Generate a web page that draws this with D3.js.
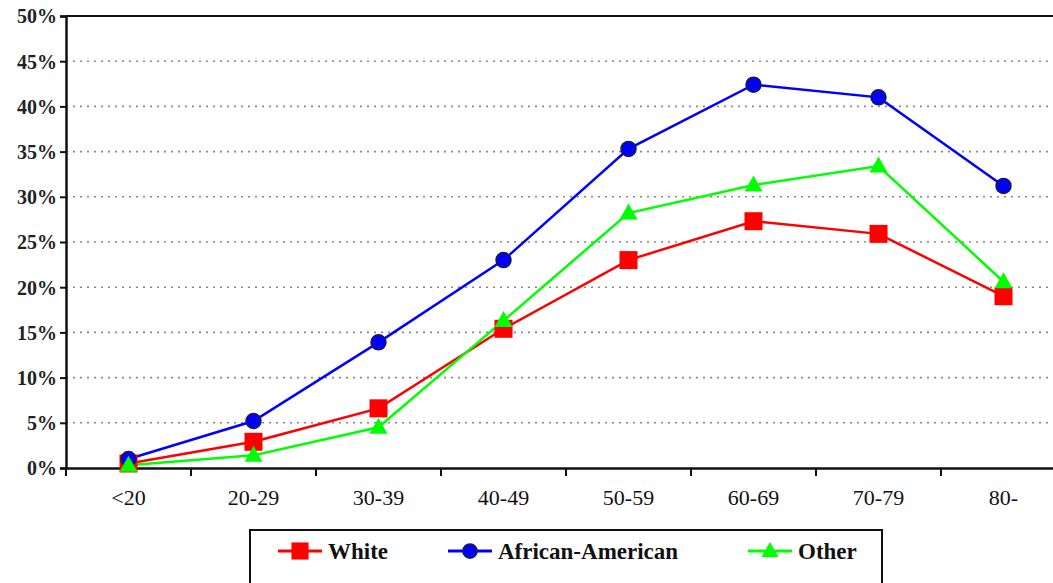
<!DOCTYPE html>
<html>
<head>
<meta charset="utf-8">
<script src="https://cdn.jsdelivr.net/npm/d3@7/dist/d3.min.js"></script>
<style>
  html, body { margin: 0; padding: 0; background: #fff; }
  svg { display: block; }
</style>
</head>
<body>
<svg id="chart" width="1053" height="583" font-family="Liberation Serif"></svg>
<script>
const categories = ["<20", "20-29", "30-39", "40-49", "50-59", "60-69", "70-79", "80-"];
const white = [0.5, 2.9, 6.6, 15.4, 23.0, 27.3, 25.9, 19.0];
const africanAmerican = [1.0, 5.2, 13.9, 23.0, 35.3, 42.4, 41.0, 31.2];
const other = [0.3, 1.4, 4.5, 16.3, 28.2, 31.3, 33.4, 20.6];
const yTicks = [0, 5, 10, 15, 20, 25, 30, 35, 40, 45, 50];
const seriesNames = ["White", "African-American", "Other"];
const seriesColors = ["#ff0000", "#0000ff", "#00ff00"];

const series = [
  { name: seriesNames[0], values: white, color: seriesColors[0], shape: "square" },
  { name: seriesNames[1], values: africanAmerican, color: seriesColors[1], shape: "circle" },
  { name: seriesNames[2], values: other, color: seriesColors[2], shape: "triangle" }
];

const FONT = "Liberation Serif";
const svg = d3.select("#chart");
const mLeft = 66, mRight = 1066, mTop = 16, mBottom = 468;

const x = d3.scaleBand().domain(categories).range([mLeft, mRight]);
const y = d3.scaleLinear().domain([0, 50]).range([mBottom, mTop]);

// gridlines
svg.append("g").selectAll("line").data(yTicks.filter(d => d > 0 && d < 50)).join("line")
  .attr("x1", mLeft).attr("x2", mRight)
  .attr("y1", d => y(d)).attr("y2", d => y(d))
  .attr("stroke", "#888").attr("stroke-width", 1.6)
  .attr("stroke-dasharray", "2,5");

// top border
svg.append("line").attr("x1", mLeft).attr("x2", mRight).attr("y1", y(50)).attr("y2", y(50))
  .attr("stroke", "#111").attr("stroke-width", 2);

// y axis
const yAxis = d3.axisLeft(y).tickValues(yTicks).tickFormat(d => d + "%").tickSize(6).tickPadding(3);
const gy = svg.append("g").attr("transform", `translate(${mLeft},0)`).call(yAxis);
gy.attr("font-family", FONT).attr("font-size", 20).attr("font-weight", "bold");
gy.select(".domain").attr("stroke", "#111").attr("stroke-width", 2.5);
gy.selectAll(".tick line").attr("stroke", "#111").attr("stroke-width", 2);
gy.selectAll(".tick text").attr("font-family", FONT).attr("font-size", 20)
  .attr("font-weight", "bold").attr("fill", "#222").attr("dy", "0.34em");

// x axis
const xAxis = d3.axisBottom(x).tickSize(0).tickPadding(21);
const gx = svg.append("g").attr("transform", `translate(0,${mBottom})`).call(xAxis);
gx.attr("font-family", FONT).attr("font-size", 22);
gx.select(".domain").attr("stroke", "#111").attr("stroke-width", 2.5);
gx.selectAll(".tick text").attr("font-family", FONT).attr("font-size", 22)
  .attr("fill", "#111");
// boundary ticks
svg.append("g").selectAll("line").data(categories).join("line")
  .attr("x1", d => x(d)).attr("x2", d => x(d))
  .attr("y1", mBottom).attr("y2", mBottom + 8)
  .attr("stroke", "#111").attr("stroke-width", 2);

const line = d3.line().x((d, i) => x(categories[i]) + x.bandwidth() / 2).y(d => y(d));

function drawMarker(g, shape, color, cx, cy, scale) {
  const s = scale || 1;
  if (shape === "square") {
    g.append("rect").attr("x", cx - 9 * s).attr("y", cy - 9 * s)
      .attr("width", 18 * s).attr("height", 18 * s).attr("fill", color);
  } else if (shape === "circle") {
    g.append("circle").attr("cx", cx).attr("cy", cy).attr("r", 7.5 * s)
      .attr("fill", color).attr("stroke", "#1a1a4a").attr("stroke-width", 1.5);
  } else {
    const h = 16 * s, w = 18 * s;
    g.append("path").attr("d", `M${cx},${cy - h * 0.6} L${cx + w / 2},${cy + h * 0.4} L${cx - w / 2},${cy + h * 0.4} Z`)
      .attr("fill", color);
  }
}

series.forEach(s => {
  svg.append("path").datum(s.values).attr("d", line)
    .attr("fill", "none").attr("stroke", s.color).attr("stroke-width", 2.5);
});
series.forEach(s => {
  const g = svg.append("g");
  s.values.forEach((v, i) => {
    drawMarker(g, s.shape, s.color, x(categories[i]) + x.bandwidth() / 2, y(v));
  });
});

// legend
const lg = svg.append("g");
lg.append("rect").attr("x", 250).attr("y", 530).attr("width", 632).attr("height", 80)
  .attr("fill", "#fff").attr("stroke", "#111").attr("stroke-width", 2);
const legendX = [278, 448, 748];
series.forEach((s, i) => {
  const lx = legendX[i], ly = 551;
  lg.append("line").attr("x1", lx).attr("x2", lx + 44).attr("y1", ly).attr("y2", ly)
    .attr("stroke", s.color).attr("stroke-width", 3);
  drawMarker(lg, s.shape, s.color, lx + 22, ly, 0.95);
  lg.append("text")
    .attr("x", lx + 50).attr("y", ly)
    .attr("dy", "0.34em")
    .attr("font-family", FONT).attr("font-size", 23).attr("font-weight", "bold")
    .attr("fill", "#111").text(s.name);
});
</script>
</body>
</html>
